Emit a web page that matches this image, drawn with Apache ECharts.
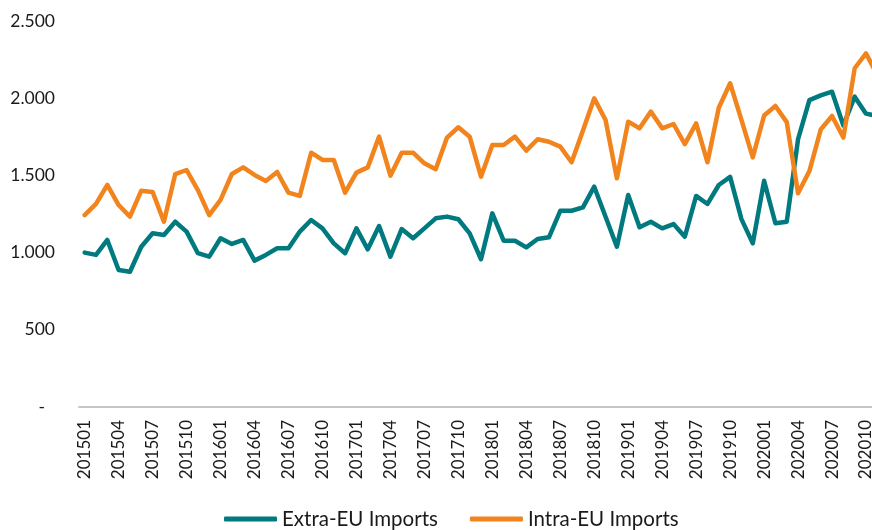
<!DOCTYPE html>
<html>
<head>
<meta charset="utf-8">
<script src="https://cdn.jsdelivr.net/npm/echarts@6/dist/echarts.min.js"></script>
<style>
html,body{margin:0;padding:0;background:#fff;}
#chart{width:872px;height:530px;}
</style>
</head>
<body>
<div id="chart"></div>
<script>
var categories = [
 '201501','201502','201503','201504','201505','201506','201507','201508','201509','201510','201511','201512',
 '201601','201602','201603','201604','201605','201606','201607','201608','201609','201610','201611','201612',
 '201701','201702','201703','201704','201705','201706','201707','201708','201709','201710','201711','201712',
 '201801','201802','201803','201804','201805','201806','201807','201808','201809','201810','201811','201812',
 '201901','201902','201903','201904','201905','201906','201907','201908','201909','201910','201911','201912',
 '202001','202002','202003','202004','202005','202006','202007','202008','202009','202010','202011'
];
var extraEU = [
 1000,985,1082,887,876,1038,1125,1114,1200,1136,996,974,
 1093,1056,1082,948,985,1028,1028,1136,1211,1157,1060,996,
 1157,1021,1172,974,1153,1093,1157,1222,1233,1216,1125,957,
 1254,1077,1077,1034,1088,1099,1271,1271,1293,1427,1232,1038,
 1373,1164,1200,1157,1185,1103,1367,1315,1438,1490,1217,1060,
 1465,1190,1200,1735,1988,2018,2042,1823,2010,1900,1885
];
var intraEU = [
 1243,1315,1438,1308,1233,1401,1393,1200,1509,1535,1405,1243,
 1341,1509,1552,1503,1464,1522,1388,1367,1647,1600,1600,1388,
 1518,1552,1751,1498,1647,1647,1578,1540,1745,1812,1751,1492,
 1697,1697,1751,1660,1734,1718,1686,1585,1790,1999,1859,1481,
 1848,1805,1913,1805,1833,1703,1837,1585,1938,2097,1860,1617,
 1888,1950,1845,1384,1528,1797,1885,1745,2194,2290,2150
];
var seriesNames = ['Extra-EU Imports','Intra-EU Imports'];
var yTicks = [0,500,1000,1500,2000,2500];

var chart = echarts.init(document.getElementById('chart'), null, {renderer:'canvas'});
function fmt(v){
  if (v === 0) return '{d|-}';
  var s = String(v);
  return s.replace(/\B(?=(\d{3})+(?!\d))/g, '.');
}
chart.setOption({
  animation:false,
  backgroundColor:'#ffffff',
  textStyle:{fontFamily:'Lato'},
  grid:{left:79,right:-11,top:21,bottom:123,containLabel:false,outerBoundsMode:'none'},
  legend:{
    data:seriesNames,
    left:219, top:502,
    icon:'roundRect',
    itemWidth:53, itemHeight:5, itemGap:32,
    textStyle:{fontFamily:'Lato',fontSize:20.5,color:'#1a1a1a',lineHeight:24}
  },
  xAxis:{
    type:'category',
    data:categories,
    boundaryGap:true,
    axisLine:{lineStyle:{color:'#C6C6C6',width:2}},
    axisTick:{show:false},
    splitLine:{show:false},
    axisLabel:{interval:2,rotate:90,margin:13,fontFamily:'Lato',fontSize:17,color:'#1a1a1a'}
  },
  yAxis:{
    type:'value',
    min:yTicks[0], max:yTicks[yTicks.length-1], interval:500,
    axisLine:{show:false},
    axisTick:{show:false},
    splitLine:{show:false},
    axisLabel:{
      margin:24,fontFamily:'Lato',fontSize:17.5,color:'#1a1a1a',
      formatter:fmt,
      rich:{d:{fontFamily:'Lato',fontSize:17.5,color:'#1a1a1a',padding:[0,10,0,0]}}
    }
  },
  series:[
    {name:seriesNames[0],type:'line',data:extraEU,symbol:'none',
     lineStyle:{color:'#00797F',width:4.5,cap:'round',join:'round'},itemStyle:{color:'#00797F'}},
    {name:seriesNames[1],type:'line',data:intraEU,symbol:'none',
     lineStyle:{color:'#F2841E',width:4.5,cap:'round',join:'round'},itemStyle:{color:'#F2841E'}}
  ]
});
</script>
</body>
</html>
